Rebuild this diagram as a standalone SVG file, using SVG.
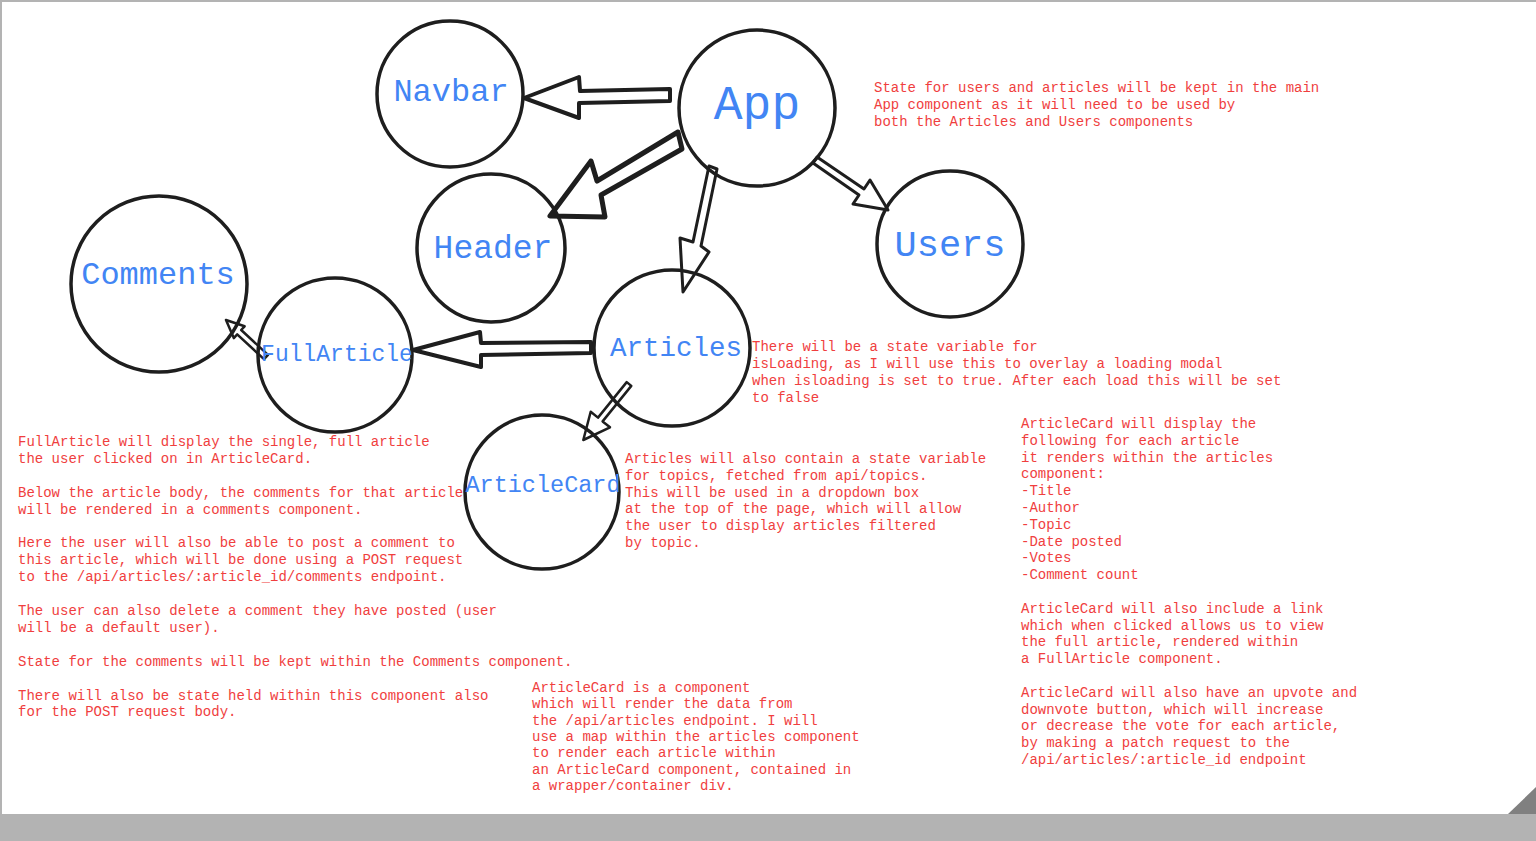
<svg xmlns="http://www.w3.org/2000/svg" width="1536" height="841" viewBox="0 0 1536 841">
<style>
.node circle{fill:none;stroke:#1e1e1e;stroke-width:3.5}
.lbl{font-family:"Liberation Mono","DejaVu Sans Mono",monospace;fill:#4285f4;text-anchor:middle}
.note{font-family:"Liberation Mono","DejaVu Sans Mono",monospace;font-size:14px;fill:#f03e3e}
.arr{fill:#fff;stroke:#1e1e1e;stroke-linejoin:round}
</style>
<rect x="0" y="0" width="1536" height="841" fill="#fff"/>
<rect x="0" y="0" width="1536" height="2" fill="#b3b3b3"/>
<rect x="0" y="0" width="2" height="814" fill="#b3b3b3"/>
<rect x="0" y="814" width="1536" height="27" fill="#b3b3b3"/>
<polygon points="1508,814 1536,787 1536,814" fill="#808080"/>

<g id="connectors">
<polygon class="arr" stroke-width="4" points="670,89 580,91 579,77 524,98 579,118 579,103 670,101"/>
<polygon class="arr" stroke-width="5" points="678,132 597,181 591,161 550,216 605,217 601,195 682,149"/>
<polygon class="arr" stroke-width="3" points="709,166 717,169 701,246 709,252 683,292 680,238 693,242"/>
<polygon class="arr" stroke-width="3" points="817,157 864,189 870,180 888,210 853,204 859,195 813,163"/>
<polygon class="arr" stroke-width="4" points="591,342 481,343 480,332 413,350 481,367 481,355 591,353"/>
<polygon class="arr" stroke-width="2.5" points="226,320 244.6,326.3 241.2,330 268,354.8 264,359.2 237.2,334.4 233.8,338.1"/>
<polygon class="arr" stroke-width="2.5" points="626.7,382.1 631.3,385.9 602.6,421.4 610,427.3 583.3,440 590.7,411.7 598,417.6"/>
</g>

<g id="navbar" class="node"><circle cx="450" cy="94" r="73"/><text class="lbl" x="451" y="101" font-size="32">Navbar</text></g>
<g id="app" class="node"><circle cx="757" cy="108" r="78"/><text class="lbl" x="757" y="119" font-size="48">App</text></g>
<g id="header" class="node"><circle cx="491" cy="248" r="74"/><text class="lbl" x="493" y="258" font-size="33">Header</text></g>
<g id="users" class="node"><circle cx="950" cy="244" r="73"/><text class="lbl" x="950" y="256" font-size="37">Users</text></g>
<g id="comments" class="node"><circle cx="159" cy="284" r="88"/><text class="lbl" x="158" y="284" font-size="32">Comments</text></g>
<g id="fullarticle" class="node"><circle cx="335" cy="355" r="77"/><text class="lbl" x="337" y="361" font-size="23">FullArticle</text></g>
<g id="articles" class="node"><circle cx="672" cy="348" r="78"/><text class="lbl" x="676" y="356" font-size="27.5">Articles</text></g>
<g id="articlecard" class="node"><circle cx="542" cy="492" r="77"/><text class="lbl" x="543" y="492" font-size="23.5">ArticleCard</text></g>

<g id="notes">
<text class="note" x="874" y="92"><tspan x="874">State for users and articles will be kept in the main</tspan><tspan x="874" dy="17">App component as it will need to be used by</tspan><tspan x="874" dy="17">both the Articles and Users components</tspan></text>
<text class="note" x="752" y="351"><tspan x="752">There will be a state variable for</tspan><tspan x="752" dy="17">isLoading, as I will use this to overlay a loading modal</tspan><tspan x="752" dy="17">when isloading is set to true. After each load this will be set</tspan><tspan x="752" dy="17">to false</tspan></text>
<text class="note" x="18" y="446"><tspan x="18">FullArticle will display the single, full article</tspan><tspan x="18" dy="16.9">the user clicked on in ArticleCard.</tspan><tspan x="18" dy="33.8">Below the article body, the comments for that article</tspan><tspan x="18" dy="16.9">will be rendered in a comments component.</tspan><tspan x="18" dy="33.8">Here the user will also be able to post a comment to</tspan><tspan x="18" dy="16.9">this article, which will be done using a POST request</tspan><tspan x="18" dy="16.9">to the /api/articles/:article_id/comments endpoint.</tspan><tspan x="18" dy="33.8">The user can also delete a comment they have posted (user</tspan><tspan x="18" dy="16.9">will be a default user).</tspan><tspan x="18" dy="33.8">State for the comments will be kept within the Comments component.</tspan><tspan x="18" dy="33.8">There will also be state held within this component also</tspan><tspan x="18" dy="16.9">for the POST request body.</tspan></text>
<text class="note" x="625" y="463"><tspan x="625">Articles will also contain a state variable</tspan><tspan x="625" dy="16.8">for topics, fetched from api/topics.</tspan><tspan x="625" dy="16.8">This will be used in a dropdown box</tspan><tspan x="625" dy="16.8">at the top of the page, which will allow</tspan><tspan x="625" dy="16.8">the user to display articles filtered</tspan><tspan x="625" dy="16.8">by topic.</tspan></text>
<text class="note" x="532" y="692"><tspan x="532">ArticleCard is a component</tspan><tspan x="532" dy="16.35">which will render the data from</tspan><tspan x="532" dy="16.35">the /api/articles endpoint. I will</tspan><tspan x="532" dy="16.35">use a map within the articles component</tspan><tspan x="532" dy="16.35">to render each article within</tspan><tspan x="532" dy="16.35">an ArticleCard component, contained in</tspan><tspan x="532" dy="16.35">a wrapper/container div.</tspan></text>
<text class="note" x="1021" y="428"><tspan x="1021">ArticleCard will display the</tspan><tspan x="1021" dy="16.8">following for each article</tspan><tspan x="1021" dy="16.8">it renders within the articles</tspan><tspan x="1021" dy="16.8">component:</tspan><tspan x="1021" dy="16.8">-Title</tspan><tspan x="1021" dy="16.8">-Author</tspan><tspan x="1021" dy="16.8">-Topic</tspan><tspan x="1021" dy="16.8">-Date posted</tspan><tspan x="1021" dy="16.8">-Votes</tspan><tspan x="1021" dy="16.8">-Comment count</tspan><tspan x="1021" dy="33.6">ArticleCard will also include a link</tspan><tspan x="1021" dy="16.8">which when clicked allows us to view</tspan><tspan x="1021" dy="16.8">the full article, rendered within</tspan><tspan x="1021" dy="16.8">a FullArticle component.</tspan><tspan x="1021" dy="33.6">ArticleCard will also have an upvote and</tspan><tspan x="1021" dy="16.8">downvote button, which will increase</tspan><tspan x="1021" dy="16.8">or decrease the vote for each article,</tspan><tspan x="1021" dy="16.8">by making a patch request to the</tspan><tspan x="1021" dy="16.8">/api/articles/:article_id endpoint</tspan></text>
</g>
</svg>
